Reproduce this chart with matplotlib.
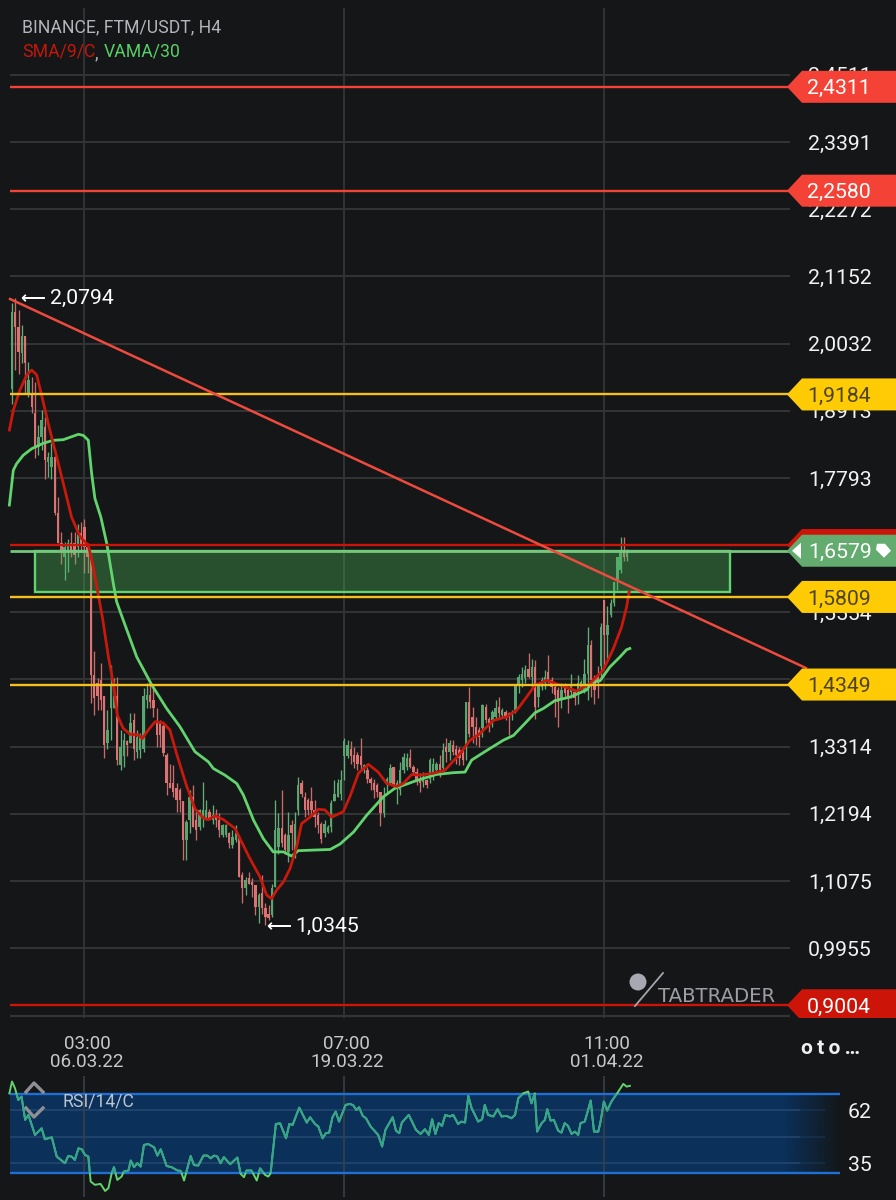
import numpy as np
import matplotlib
matplotlib.use('Agg')
import matplotlib.pyplot as plt
from matplotlib.lines import Line2D
from matplotlib.patches import Ellipse, Polygon, Rectangle
from matplotlib.transforms import ScaledTranslation

plt.rcParams['font.family'] = ['Roboto', 'DejaVu Sans']

# OHLC, one row of ten candles per line
opens = [
    1.928, 2.056, 2.031, 1.987, 2.015, 1.920, 1.920, 1.887, 1.831, 1.848,
    1.864, 1.806, 1.798, 1.814, 1.720, 1.670, 1.648, 1.656, 1.670, 1.670,
    1.664, 1.687, 1.698, 1.664, 1.648, 1.451, 1.437, 1.442, 1.415, 1.337,
    1.395, 1.395, 1.415, 1.301, 1.315, 1.340, 1.337, 1.376, 1.323, 1.326,
    1.328, 1.409, 1.417, 1.409, 1.370, 1.370, 1.365, 1.317, 1.270, 1.270,
    1.262, 1.259, 1.240, 1.176, 1.209, 1.248, 1.209, 1.198, 1.212, 1.212,
    1.223, 1.209, 1.217, 1.209, 1.184, 1.184, 1.187, 1.167, 1.176, 1.181,
    1.117, 1.095, 1.112, 1.106, 1.100, 1.064, 1.087, 1.062, 1.053, 1.050,
    1.098, 1.164, 1.195, 1.184, 1.156, 1.201, 1.153, 1.226, 1.270, 1.248,
    1.242, 1.240, 1.226, 1.217, 1.203, 1.187, 1.189, 1.198, 1.240, 1.248,
    1.253, 1.315, 1.315, 1.328, 1.317, 1.317, 1.315, 1.292, 1.292, 1.277,
    1.270, 1.267, 1.256, 1.220, 1.267, 1.270, 1.298, 1.264, 1.259, 1.292,
    1.298, 1.312, 1.298, 1.289, 1.278, 1.273, 1.275, 1.278, 1.284, 1.292,
    1.303, 1.295, 1.331, 1.323, 1.334, 1.328, 1.326, 1.320, 1.331, 1.406,
    1.381, 1.364, 1.359, 1.362, 1.398, 1.378, 1.375, 1.381, 1.398, 1.384,
    1.389, 1.387, 1.384, 1.392, 1.434, 1.442, 1.445, 1.460, 1.448, 1.464,
    1.414, 1.431, 1.437, 1.456, 1.442, 1.431, 1.426, 1.412, 1.431, 1.426,
    1.423, 1.423, 1.420, 1.428, 1.426, 1.453, 1.501, 1.445, 1.451, 1.465,
    1.576, 1.517, 1.551, 1.570, 1.609, 1.626, 1.656, 1.648,
]
highs = [
    2.070, 2.079, 2.059, 2.034, 2.015, 1.973, 1.948, 1.939, 1.867, 1.892,
    1.881, 1.823, 1.837, 1.817, 1.748, 1.689, 1.673, 1.678, 1.689, 1.689,
    1.703, 1.706, 1.711, 1.670, 1.653, 1.490, 1.445, 1.470, 1.415, 1.392,
    1.467, 1.445, 1.448, 1.359, 1.354, 1.342, 1.387, 1.387, 1.359, 1.354,
    1.429, 1.437, 1.437, 1.431, 1.395, 1.376, 1.370, 1.320, 1.303, 1.301,
    1.270, 1.262, 1.240, 1.209, 1.259, 1.267, 1.226, 1.228, 1.273, 1.242,
    1.228, 1.234, 1.228, 1.220, 1.203, 1.203, 1.189, 1.192, 1.201, 1.184,
    1.123, 1.114, 1.123, 1.112, 1.100, 1.087, 1.117, 1.070, 1.067, 1.103,
    1.242, 1.220, 1.259, 1.187, 1.223, 1.209, 1.223, 1.281, 1.276, 1.256,
    1.245, 1.264, 1.242, 1.223, 1.206, 1.209, 1.201, 1.242, 1.276, 1.278,
    1.292, 1.345, 1.342, 1.340, 1.331, 1.323, 1.345, 1.303, 1.298, 1.281,
    1.278, 1.270, 1.256, 1.264, 1.281, 1.303, 1.298, 1.276, 1.306, 1.320,
    1.320, 1.328, 1.300, 1.295, 1.287, 1.289, 1.278, 1.312, 1.312, 1.306,
    1.317, 1.337, 1.345, 1.342, 1.342, 1.334, 1.331, 1.326, 1.406, 1.431,
    1.398, 1.381, 1.364, 1.403, 1.403, 1.381, 1.392, 1.409, 1.414, 1.395,
    1.392, 1.389, 1.392, 1.434, 1.453, 1.464, 1.467, 1.487, 1.478, 1.476,
    1.437, 1.448, 1.459, 1.484, 1.448, 1.437, 1.431, 1.437, 1.437, 1.431,
    1.453, 1.426, 1.451, 1.442, 1.478, 1.531, 1.509, 1.451, 1.465, 1.537,
    1.576, 1.565, 1.578, 1.606, 1.648, 1.681, 1.681, 1.660,
]
lows = [
    1.903, 1.959, 1.953, 1.970, 1.920, 1.914, 1.887, 1.812, 1.817, 1.825,
    1.778, 1.781, 1.778, 1.717, 1.670, 1.636, 1.609, 1.623, 1.648, 1.636,
    1.648, 1.659, 1.620, 1.620, 1.404, 1.384, 1.392, 1.392, 1.312, 1.328,
    1.342, 1.395, 1.301, 1.292, 1.298, 1.315, 1.337, 1.309, 1.312, 1.312,
    1.323, 1.395, 1.395, 1.381, 1.331, 1.331, 1.315, 1.251, 1.262, 1.248,
    1.223, 1.223, 1.142, 1.142, 1.187, 1.198, 1.176, 1.192, 1.198, 1.209,
    1.209, 1.203, 1.198, 1.181, 1.181, 1.181, 1.162, 1.162, 1.173, 1.114,
    1.070, 1.084, 1.103, 1.081, 1.050, 1.037, 1.053, 1.0345, 1.042, 1.048,
    1.098, 1.153, 1.164, 1.153, 1.139, 1.159, 1.145, 1.217, 1.248, 1.214,
    1.217, 1.217, 1.198, 1.187, 1.170, 1.181, 1.187, 1.189, 1.240, 1.248,
    1.242, 1.276, 1.312, 1.303, 1.295, 1.292, 1.292, 1.287, 1.270, 1.259,
    1.245, 1.248, 1.199, 1.214, 1.253, 1.267, 1.264, 1.236, 1.250, 1.287,
    1.292, 1.295, 1.284, 1.267, 1.256, 1.264, 1.262, 1.270, 1.275, 1.289,
    1.281, 1.292, 1.306, 1.309, 1.317, 1.303, 1.300, 1.300, 1.309, 1.348,
    1.337, 1.334, 1.331, 1.348, 1.370, 1.356, 1.364, 1.375, 1.378, 1.381,
    1.375, 1.350, 1.375, 1.387, 1.420, 1.431, 1.437, 1.445, 1.431, 1.378,
    1.398, 1.426, 1.428, 1.437, 1.420, 1.381, 1.364, 1.395, 1.414, 1.387,
    1.412, 1.400, 1.403, 1.426, 1.420, 1.409, 1.414, 1.403, 1.412, 1.442,
    1.465, 1.476, 1.548, 1.565, 1.592, 1.620, 1.640, 1.640,
]
closes = [
    2.056, 2.031, 1.989, 2.015, 1.970, 1.942, 1.898, 1.831, 1.848, 1.875,
    1.809, 1.814, 1.814, 1.720, 1.670, 1.659, 1.664, 1.670, 1.656, 1.650,
    1.684, 1.667, 1.664, 1.648, 1.451, 1.412, 1.415, 1.409, 1.334, 1.359,
    1.434, 1.415, 1.309, 1.331, 1.342, 1.334, 1.370, 1.328, 1.348, 1.348,
    1.415, 1.417, 1.406, 1.395, 1.351, 1.351, 1.320, 1.270, 1.262, 1.256,
    1.242, 1.242, 1.176, 1.206, 1.248, 1.198, 1.192, 1.226, 1.226, 1.226,
    1.212, 1.217, 1.209, 1.192, 1.201, 1.201, 1.170, 1.181, 1.187, 1.114,
    1.095, 1.109, 1.103, 1.100, 1.064, 1.084, 1.062, 1.048, 1.045, 1.095,
    1.192, 1.195, 1.170, 1.159, 1.184, 1.187, 1.203, 1.267, 1.253, 1.226,
    1.226, 1.226, 1.214, 1.201, 1.178, 1.203, 1.198, 1.237, 1.253, 1.270,
    1.276, 1.340, 1.334, 1.315, 1.306, 1.303, 1.301, 1.301, 1.278, 1.270,
    1.259, 1.256, 1.220, 1.248, 1.278, 1.295, 1.267, 1.270, 1.292, 1.314,
    1.312, 1.298, 1.289, 1.275, 1.270, 1.281, 1.267, 1.309, 1.303, 1.303,
    1.292, 1.326, 1.323, 1.337, 1.323, 1.317, 1.312, 1.309, 1.406, 1.353,
    1.364, 1.348, 1.348, 1.400, 1.375, 1.370, 1.389, 1.395, 1.387, 1.392,
    1.381, 1.381, 1.389, 1.434, 1.448, 1.453, 1.459, 1.447, 1.464, 1.398,
    1.437, 1.442, 1.448, 1.442, 1.431, 1.417, 1.406, 1.426, 1.420, 1.414,
    1.434, 1.412, 1.437, 1.439, 1.453, 1.501, 1.442, 1.426, 1.437, 1.531,
    1.517, 1.534, 1.570, 1.606, 1.648, 1.656, 1.648, 1.658,
]

# SMA/9/C, candle position and price
sma_idx = [-0.8, 0.4, 2.4, 4.5, 6, 7.5, 9, 11.5, 13.6, 15.6, 18.1, 20.7, 23.2, 24.7, 27.6,
           29.3, 30.8, 32, 33.8, 35.9, 38.4, 39.6, 41.4, 43.5, 46, 48, 50, 53, 55.6, 58.2,
           59.7, 61.7, 64.2, 67.8, 69.3, 72.3, 75.4, 77.4, 78.9, 80.4, 82.5, 84.5, 86.5, 88,
           90.6, 93.1, 95.1, 97.2, 100.7, 102.7, 105.3, 108.3, 111.3, 113.9, 116.9, 118.9,
           121.5, 124, 128, 131.6, 136.2, 139.2, 142.2, 146.3, 150.3, 153.4, 156.4, 159,
           162.5, 166.6, 171.6, 175.7, 179.7, 182.8, 185.3, 186.8, 187.6]
sma_val = [1.859, 1.892, 1.926, 1.951, 1.959, 1.951, 1.917, 1.859, 1.814, 1.770, 1.714, 1.681, 1.667, 1.631, 1.5425,
           1.481, 1.437, 1.384, 1.362, 1.352, 1.351, 1.345, 1.359, 1.373, 1.371, 1.359, 1.320, 1.267, 1.228, 1.212,
           1.210, 1.216, 1.210, 1.195, 1.178, 1.145, 1.114, 1.084, 1.078, 1.092, 1.106, 1.128, 1.164, 1.203,
           1.214, 1.227, 1.226, 1.214, 1.223, 1.248, 1.287, 1.302, 1.289, 1.270, 1.265, 1.270,
           1.285, 1.284, 1.287, 1.292, 1.320, 1.342, 1.353, 1.375, 1.381, 1.392, 1.414, 1.434,
           1.442, 1.434, 1.424, 1.437, 1.459, 1.495, 1.531, 1.564, 1.590]

# VAMA/30
vama_idx = [-0.8, 0.4, 1.4, 3.4, 6, 9.5, 12.6, 15.6, 20.2, 21.7, 23.2, 24.2, 25.2, 27, 28.8, 30.8, 31.8, 33.8,
            37.9, 42.5, 47, 51, 55.6, 59.7, 61.2, 64.7, 68.3, 70.3, 73.4, 76.4, 79.4, 82.5, 85, 87, 91.6,
            96.7, 99.7, 103.8, 107.8, 112.9, 116.4, 123, 129, 134.1, 137.7, 139.7, 144.3, 149.3, 152.4,
            156.4, 159, 161.5, 165, 169.6, 174.7, 176.2, 178.7, 181.7, 184.8, 186.8, 187.8]
vama_val = [1.734, 1.792, 1.803, 1.817, 1.828, 1.837, 1.842, 1.843, 1.852, 1.850, 1.842, 1.787, 1.745, 1.714, 1.670, 1.603, 1.573, 1.5425,
            1.481, 1.434, 1.395, 1.365, 1.323, 1.306, 1.295, 1.284, 1.270, 1.251, 1.209, 1.178, 1.156, 1.156, 1.149, 1.158, 1.159,
            1.160, 1.169, 1.189, 1.217, 1.248, 1.262, 1.275, 1.285, 1.288, 1.289, 1.309, 1.325, 1.342, 1.350,
            1.373, 1.388, 1.395, 1.408, 1.414, 1.426, 1.439, 1.441, 1.464, 1.481, 1.493, 1.495]

# RSI/14/C
rsi_idx = [-0.8, 0, 0.9, 1.9, 2.9, 4, 5, 7, 9, 10, 12.1, 13.6, 16.1, 17.1, 18.1, 19.1, 20.2, 21.2, 22.2, 23.2,
           23.9, 25.2, 26.9, 28.3, 29.3, 30.3, 31, 32, 33.3, 34, 35.4, 36.1, 37.1, 38.1, 39.1, 40.1, 41.4, 43.2,
           44.2, 45.2, 47, 48.5, 50.3, 51.3, 52.3, 54.3, 55.3, 56.6, 58.2, 59.4, 60.4, 61.4, 62.4, 63.4, 64.4,
           66.3, 68.5, 69.5, 70.5, 71.3, 72.8, 74.4, 75.4, 76.9, 77.9, 78.6, 80.2, 81.5, 83.3, 84.3, 85.3, 87.3,
           89.6, 90.6, 92.1, 93.1, 94.4, 95.4, 96.4, 97.4, 98.4, 99.4, 101.4, 102.7, 103.7, 104.7, 105.5, 106.6,
           107.6, 109, 111.3, 112.5, 113.5, 115.7, 116.7, 117.7, 118.5, 120.6, 122.8, 124.2, 125.5, 126.7, 127.7,
           128.7, 129.7, 130.7, 131.7, 133.1, 134.1, 135.6, 136.6, 137.7, 138.7, 139.7, 141.7, 142.9, 143.7, 144.7,
           146.3, 147.6, 148.8, 150.3, 151.8, 152.9, 153.9, 155.4, 156.9, 157.9, 158.9, 159.6, 161, 162, 162.7,
           163.7, 164.7, 166, 167, 168, 169, 170.1, 171.1, 172.1, 172.8, 174.1, 175.9, 176.9, 178.2, 178.9, 179.9,
           180.9, 182.2, 184.3, 185.8, 186.8, 187.8]
rsi_val = [70.5, 76.5, 73.1, 67.1, 68.8, 57.0, 59.5, 49.3, 52.7, 47.1, 48.1, 38.3, 34.9, 38.6, 38.3, 36.6, 42.5, 42.0, 39.1, 38.3,
           25.6, 23.9, 24.4, 20.8, 22.2, 29.8, 32.9, 26.4, 28.1, 30.7, 31.2, 36.3, 32.9, 34.9, 33.2, 44.2, 44.7, 43.0,
           38.8, 42.0, 33.5, 32.9, 31.2, 31.0, 26.1, 38.6, 34.0, 33.7, 38.8, 38.8, 37.4, 38.8, 38.3, 34.9, 38.0,
           34.4, 37.8, 29.5, 27.8, 31.2, 31.2, 26.1, 32.3, 29.0, 28.1, 29.8, 54.9, 55.2, 47.6, 54.9, 54.4, 63.2,
           55.6, 58.3, 54.9, 53.6, 47.6, 50.2, 50.5, 58.3, 61.2, 56.1, 64.6, 65.1, 64.4, 62.0, 63.4, 59.0,
           57.8, 53.6, 49.3, 43.4, 51.9, 58.3, 51.5, 50.2, 55.6, 59.5, 51.9, 49.8, 52.2, 49.3, 57.3,
           49.8, 55.3, 53.9, 59.5, 58.7, 59.5, 54.9, 56.1, 55.6, 69.2, 62.9, 56.1, 57.3, 64.6, 59.5,
           58.7, 62.4, 58.7, 59.0, 57.8, 59.5, 68.0, 70.5, 71.4, 65.4, 70.5, 51.0, 55.3, 57.0, 62.4,
           56.6, 57.0, 51.5, 50.5, 55.3, 53.9, 49.8, 51.0, 49.3, 55.3, 56.1, 66.8, 51.0, 51.0, 56.1, 66.3,
           61.7, 66.3, 71.4, 75.3, 73.9, 74.3]

price_ticks = [2.4511, 2.3391, 2.2272, 2.1152, 2.0032, 1.8913, 1.7793, 1.6673,
               1.5554, 1.4434, 1.3314, 1.2194, 1.1075, 0.9955]
hidden_ticks = [1.6673, 1.4434]  # fully behind a price tag in the app
time_ticks = [22, 101, 180]
time_labels = ['03:00\n06.03.22', '07:00\n19.03.22', '11:00\n01.04.22']
rsi_ticks = [62, 35]

red_levels = [2.4311, 2.2580]
yellow_levels = [1.9184, 1.5809, 1.4349]
floor_level = 0.9004
top_level = 1.6675
last_price = 1.6579
box_low = 1.5892
trend_idx = [-0.6, 241.3]
trend_val = [2.0775, 1.4625]
max_point = (1, 2.0794)
min_point = (77, 1.0345)

BG = '#141617'
GRID = '#333435'
TAG_RED = '#f44336'
DARK_RED = '#cc1508'
YELLOW = '#ffcb05'
LINE_RED = '#c9180c'
LINE_GREEN = '#62d46e'


# pixel helpers for decoration that sits at a fixed place on the screen
def ix(px):
    return (px - 12) / 3.29


def dp(px):
    return px / 600


def fx(px):
    return px / 896


def fy(py):
    return 1 - py / 1200


def comma(v):
    return ('%.4f' % v).replace('.', ',')


fig = plt.figure(figsize=(8.96, 12), dpi=100, facecolor=BG)
ax = fig.add_axes([0, fy(1018), 1, (1018 - 8) / 1200], facecolor=BG)
ax.set_xlim(ix(0), ix(896))
ax.set_ylim(2.5758 - 1018 / 600, 2.5758 - 8 / 600)
ax.set_axisbelow(True)

for s in ax.spines.values():
    s.set_visible(False)

# grid
ax.hlines(price_ticks, ix(10), ix(790), color=GRID, lw=1.4, zorder=1)
ax.vlines(time_ticks, ax.get_ylim()[0], ax.get_ylim()[1], color=GRID, lw=1.3, zorder=1)
ax.hlines(2.5758 - 1016 / 600, ix(10), ix(790), color=GRID, lw=1.6, zorder=1)

ax.yaxis.tick_right()
ax.set_yticks(price_ticks)
ax.set_yticklabels(['' if v in hidden_ticks else comma(v) for v in price_ticks])
ax.tick_params(axis='y', length=0, pad=-63.5, labelsize=15.3, labelcolor='#f2f2f2')
for lab in ax.get_yticklabels():
    lab.set_ha('left')
ax.set_xticks(time_ticks)
ax.set_xticklabels(time_labels, linespacing=1.05)
ax.tick_params(axis='x', length=0, pad=12, labelsize=13.6, labelcolor='#c8c8c8')
shift = ScaledTranslation(2.5 / 100, 0, fig.dpi_scale_trans)
for lab in ax.get_xticklabels():
    lab.set_transform(lab.get_transform() + shift)

# candles
idx = np.arange(len(opens))
o = np.array(opens)
c = np.array(closes)
up = c >= o
ax.vlines(idx[up], np.array(lows)[up], np.array(highs)[up], color='#62ad78', lw=0.95, zorder=3)
ax.vlines(idx[~up], np.array(lows)[~up], np.array(highs)[~up], color='#c96d6c', lw=0.95, zorder=3)
ax.bar(idx[up], (c - o)[up], bottom=o[up], width=0.72, color='#5aa56f', lw=0, zorder=3)
ax.bar(idx[~up], (c - o)[~up], bottom=o[~up], width=0.72, color='#dd7272', lw=0, zorder=3)

# green box and the last price line
ax.add_patch(Rectangle((ix(35), box_low), ix(730) - ix(35), last_price - box_low,
                       facecolor=(0.30, 0.72, 0.36, 0.36), edgecolor=LINE_GREEN, lw=1.7, zorder=4))
ax.hlines(last_price, ix(10), ix(790), color='#76c67c', lw=2, zorder=4)

# indicators
ax.plot(vama_idx, vama_val, color=LINE_GREEN, lw=2, zorder=5)
ax.plot(sma_idx, sma_val, color=LINE_RED, lw=2, zorder=5)

# levels
for v in red_levels:
    ax.hlines(v, ix(10), ix(790), color=TAG_RED, lw=1.7, zorder=5)
for v in yellow_levels:
    ax.hlines(v, ix(10), ix(790), color='#f4c020', lw=1.7, zorder=5)
ax.hlines(floor_level, ix(10), ix(790), color=DARK_RED, lw=1.7, zorder=5)
ax.hlines(top_level, ix(10), ix(790), color=DARK_RED, lw=1.7, zorder=5)
ax.plot(trend_idx, trend_val, color='#ee4b3e', lw=1.8, zorder=5)


def add_tag(level, color, text=None, text_color='white', text_px=807):
    pts = [(ix(787), level), (ix(802), level + dp(16)), (ix(897), level + dp(16)),
           (ix(897), level - dp(16)), (ix(802), level - dp(16))]
    ax.add_patch(Polygon(pts, closed=True, facecolor=color, edgecolor='none', zorder=6))
    if text:
        ax.text(ix(text_px), level, text, color=text_color, fontsize=15.3,
                ha='left', va='center_baseline', zorder=7)


for v in red_levels:
    add_tag(v, TAG_RED, comma(v))
for v in yellow_levels:
    add_tag(v, YELLOW, comma(v), text_color='#4e4520')
add_tag(floor_level, DARK_RED, comma(floor_level))
add_tag(top_level, DARK_RED)
add_tag(last_price, '#63ab6e', comma(last_price), text_px=808)
ax.add_patch(Polygon([(ix(792), last_price), (ix(801), last_price + dp(8)), (ix(801), last_price - dp(8))],
                     closed=True, facecolor='white', edgecolor='none', zorder=7))
ax.add_patch(Polygon([(ix(877), last_price + dp(7)), (ix(885), last_price + dp(7)), (ix(891), last_price),
                      (ix(884), last_price - dp(7)), (ix(876), last_price + dp(1))],
                     closed=True, facecolor='white', edgecolor='none', zorder=7))

# max and min markers
ax.text(ix(20), max_point[1] + dp(1), '\u27f5', color='white', fontsize=12.5, va='center_baseline', zorder=7,
        fontweight='bold')
ax.text(ix(50), max_point[1] + dp(1), comma(max_point[1]), color='white', fontsize=15.3, va='center_baseline', zorder=7)
ax.text(ix(266), min_point[1], '\u27f5', color='white', fontsize=12.5, va='center_baseline', zorder=7,
        fontweight='bold')
ax.text(ix(295), min_point[1], comma(min_point[1]), color='white', fontsize=15.3, va='center_baseline', zorder=7)

# logo
fig.add_artist(Ellipse((fx(638), fy(982)), 17 / 896, 17 / 1200, transform=fig.transFigure,
                       facecolor='#a8a8b2', edgecolor='none'))
fig.add_artist(Line2D([fx(663), fx(635)], [fy(973), fy(1006)], color='#a5a5ad', lw=1.3))
fig.text(fx(658), fy(996), 'TABTRADER', color='#9d9da3', fontsize=14.2, va='center',
         family=['DejaVu Sans'], zorder=8)

# header
fig.text(fx(22), fy(27), 'BINANCE, FTM/USDT, H4', color='#b4b4ba', fontsize=12.7, va='center')
fig.text(fx(22), fy(52), 'SMA/9/C', color='#c4170c', fontsize=12.7, va='center')
fig.text(fx(95), fy(53), ',', color='#b4b4ba', fontsize=12.7, va='center')
fig.text(fx(104), fy(52), 'VAMA/30', color='#58cf66', fontsize=12.7, va='center')
fig.text(fx(801), fy(1049), 'o\u2009t\u2009o\u2009\u2026', color='#f0f0f0', fontsize=15, fontweight='bold', va='center')

# RSI panel
rsi = fig.add_axes([0, fy(1197), 1, (1197 - 1076) / 1200], facecolor=BG)
rsi.set_xlim(ix(0), ix(896))
rsi.set_ylim(62 - (1197 - 1110) * 0.509, 62 + (1110 - 1076) * 0.509)
for s in rsi.spines.values():
    s.set_visible(False)
rsi.set_xticks([])
band_rgb = matplotlib.colors.to_rgb('#0b3059')
rsi.add_patch(Rectangle((ix(10), 30), ix(785) - ix(10), 40, facecolor=band_rgb, edgecolor='none', zorder=1))
fade = np.zeros((2, 64, 4))
fade[..., :3] = band_rgb
fade[..., 3] = np.linspace(1, 0, 64)
rsi.imshow(fade, extent=(ix(785), ix(842), 30, 70), aspect='auto', zorder=1, interpolation='bilinear')
rsi.set_xlim(ix(0), ix(896))
rsi.set_ylim(62 - (1197 - 1110) * 0.509, 62 + (1110 - 1076) * 0.509)
rsi.hlines([62, 48.5, 35], ix(10), ix(800), color='#23466d', lw=1.2, zorder=2)
rsi.hlines([62, 48.5, 35], ix(800), ix(825), color='#23466d', lw=1.2, alpha=0.4, zorder=2)
rsi.hlines([30, 70], ix(10), ix(840), color='#1f6fd6', lw=1.7, zorder=3)
rsi.vlines(time_ticks, *rsi.get_ylim(), color='#3a3f47', lw=1.2, zorder=2)

rsi.plot(rsi_idx, rsi_val, color=LINE_GREEN, lw=1.4, zorder=4)
inner = rsi.plot(rsi_idx, rsi_val, color='#35a48c', lw=1.4, zorder=5)[0]
inner.set_clip_path(Rectangle((ix(0), 30), ix(896), 40, transform=rsi.transData))

rsi.yaxis.tick_right()
rsi.set_yticks(rsi_ticks)
rsi.set_yticklabels([str(v) for v in rsi_ticks])
rsi.tick_params(axis='y', length=0, pad=-34.5, labelsize=15.3, labelcolor='#f2f2f2')
for lab in rsi.get_yticklabels():
    lab.set_ha('left')

rsi.text(ix(62), 62 + (1110 - 1102) * 0.509, 'RSI/14/C', color='#b9c4d2', fontsize=12.7, va='center', zorder=6)
fig.add_artist(Line2D([fx(26), fx(34), fx(43)], [fy(1092), fy(1083), fy(1092)], color='#8f8f96', lw=2.4))
fig.add_artist(Line2D([fx(26), fx(34), fx(43)], [fy(1108), fy(1117), fy(1108)], color='#8f8f96', lw=2.4))

fig.savefig('out.png', dpi=100, facecolor=BG)
